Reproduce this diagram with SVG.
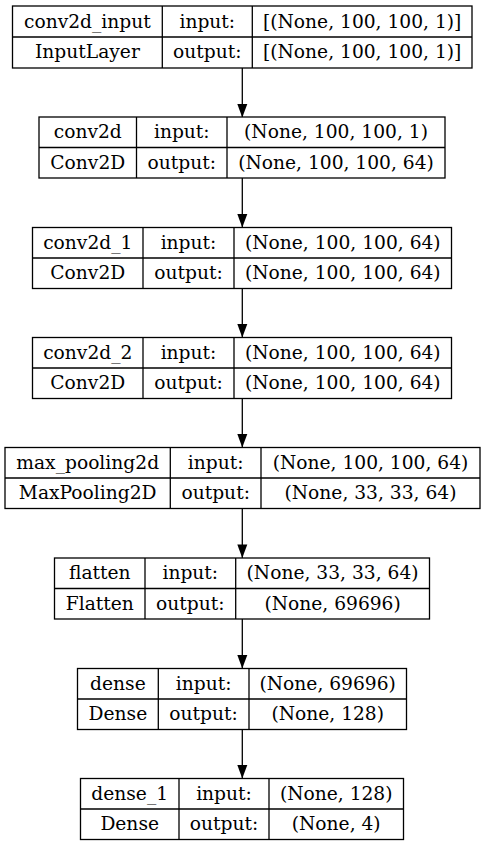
<svg xmlns="http://www.w3.org/2000/svg" width="485" height="846" viewBox="0 0 485 846">
<style>
rect.b{fill:#fff;stroke:#000;stroke-width:1.3}
line.d{stroke:#000;stroke-width:1.3}
text{font-family:'DejaVu Serif',serif;font-size:18.67px;fill:#000;text-anchor:middle}
.c line{stroke:#000;stroke-width:1.3}
.c path{fill:#000}
</style>
<rect width="485" height="846" fill="#fff"/>
<g class="c" id="connectors">
<line x1="242.3" y1="68" x2="242.3" y2="117"/>
<path d="M237.3,104 L247.3,104 L242.3,117.5 Z"/>
<line x1="242.3" y1="178" x2="242.3" y2="227.5"/>
<path d="M237.3,214 L247.3,214 L242.3,227.5 Z"/>
<line x1="242.3" y1="288.5" x2="242.3" y2="337.5"/>
<path d="M237.3,324 L247.3,324 L242.3,337.5 Z"/>
<line x1="242.3" y1="398.5" x2="242.3" y2="447.5"/>
<path d="M237.3,434 L247.3,434 L242.3,447.5 Z"/>
<line x1="242.3" y1="508.5" x2="242.3" y2="558"/>
<path d="M237.3,544.5 L247.3,544.5 L242.3,558 Z"/>
<line x1="242.3" y1="619" x2="242.3" y2="668.5"/>
<path d="M237.3,655 L247.3,655 L242.3,668.5 Z"/>
<line x1="242.3" y1="729.5" x2="242.3" y2="778.5"/>
<path d="M237.3,765 L247.3,765 L242.3,778.5 Z"/>
</g>
<g id="conv2d_input">
<rect class="b" x="12.5" y="6" width="459.5" height="62"/>
<line class="d" x1="12.5" y1="37" x2="472" y2="37"/>
<line class="d" x1="162.3" y1="6" x2="162.3" y2="68"/>
<line class="d" x1="252.3" y1="6" x2="252.3" y2="68"/>
<text x="87.4" y="27.5">conv2d_input</text>
<text x="87.4" y="58">InputLayer</text>
<text x="207.3" y="27.5">input:</text>
<text x="207.3" y="58">output:</text>
<text x="362.2" y="27.5">[(None, 100, 100, 1)]</text>
<text x="362.2" y="58">[(None, 100, 100, 1)]</text>
</g>
<g id="conv2d">
<rect class="b" x="39" y="117" width="406" height="61"/>
<line class="d" x1="39" y1="147.5" x2="445" y2="147.5"/>
<line class="d" x1="136.5" y1="117" x2="136.5" y2="178"/>
<line class="d" x1="227" y1="117" x2="227" y2="178"/>
<text x="87.8" y="138">conv2d</text>
<text x="87.8" y="168.5">Conv2D</text>
<text x="181.8" y="138">input:</text>
<text x="181.8" y="168.5">output:</text>
<text x="336" y="138">(None, 100, 100, 1)</text>
<text x="336" y="168.5">(None, 100, 100, 64)</text>
</g>
<g id="conv2d_1">
<rect class="b" x="32.5" y="227.5" width="419" height="61"/>
<line class="d" x1="32.5" y1="258" x2="451.5" y2="258"/>
<line class="d" x1="143" y1="227.5" x2="143" y2="288.5"/>
<line class="d" x1="234" y1="227.5" x2="234" y2="288.5"/>
<text x="87.8" y="248.5">conv2d_1</text>
<text x="87.8" y="279">Conv2D</text>
<text x="188.5" y="248.5">input:</text>
<text x="188.5" y="279">output:</text>
<text x="342.8" y="248.5">(None, 100, 100, 64)</text>
<text x="342.8" y="279">(None, 100, 100, 64)</text>
</g>
<g id="conv2d_2">
<rect class="b" x="32.5" y="337.5" width="419" height="61"/>
<line class="d" x1="32.5" y1="368" x2="451.5" y2="368"/>
<line class="d" x1="143" y1="337.5" x2="143" y2="398.5"/>
<line class="d" x1="234" y1="337.5" x2="234" y2="398.5"/>
<text x="87.8" y="358.5">conv2d_2</text>
<text x="87.8" y="389">Conv2D</text>
<text x="188.5" y="358.5">input:</text>
<text x="188.5" y="389">output:</text>
<text x="342.8" y="358.5">(None, 100, 100, 64)</text>
<text x="342.8" y="389">(None, 100, 100, 64)</text>
</g>
<g id="max_pooling2d">
<rect class="b" x="5" y="447.5" width="475" height="61"/>
<line class="d" x1="5" y1="478" x2="480" y2="478"/>
<line class="d" x1="170.3" y1="447.5" x2="170.3" y2="508.5"/>
<line class="d" x1="261" y1="447.5" x2="261" y2="508.5"/>
<text x="87.7" y="468.5">max_pooling2d</text>
<text x="87.7" y="499">MaxPooling2D</text>
<text x="215.7" y="468.5">input:</text>
<text x="215.7" y="499">output:</text>
<text x="370.5" y="468.5">(None, 100, 100, 64)</text>
<text x="370.5" y="499">(None, 33, 33, 64)</text>
</g>
<g id="flatten">
<rect class="b" x="54.5" y="558" width="375" height="61"/>
<line class="d" x1="54.5" y1="588.5" x2="429.5" y2="588.5"/>
<line class="d" x1="145" y1="558" x2="145" y2="619"/>
<line class="d" x1="235.7" y1="558" x2="235.7" y2="619"/>
<text x="99.8" y="579">flatten</text>
<text x="99.8" y="609.5">Flatten</text>
<text x="190.3" y="579">input:</text>
<text x="190.3" y="609.5">output:</text>
<text x="332.6" y="579">(None, 33, 33, 64)</text>
<text x="332.6" y="609.5">(None, 69696)</text>
</g>
<g id="dense">
<rect class="b" x="77.5" y="668.5" width="329" height="61"/>
<line class="d" x1="77.5" y1="699" x2="406.5" y2="699"/>
<line class="d" x1="158.3" y1="668.5" x2="158.3" y2="729.5"/>
<line class="d" x1="249" y1="668.5" x2="249" y2="729.5"/>
<text x="117.9" y="689.5">dense</text>
<text x="117.9" y="720">Dense</text>
<text x="203.6" y="689.5">input:</text>
<text x="203.6" y="720">output:</text>
<text x="327.7" y="689.5">(None, 69696)</text>
<text x="327.7" y="720">(None, 128)</text>
</g>
<g id="dense_1">
<rect class="b" x="80.5" y="778.5" width="323" height="61"/>
<line class="d" x1="80.5" y1="809" x2="403.5" y2="809"/>
<line class="d" x1="179" y1="778.5" x2="179" y2="839.5"/>
<line class="d" x1="269" y1="778.5" x2="269" y2="839.5"/>
<text x="129.7" y="799.5">dense_1</text>
<text x="129.7" y="830">Dense</text>
<text x="224" y="799.5">input:</text>
<text x="224" y="830">output:</text>
<text x="336.2" y="799.5">(None, 128)</text>
<text x="336.2" y="830">(None, 4)</text>
</g>
</svg>
